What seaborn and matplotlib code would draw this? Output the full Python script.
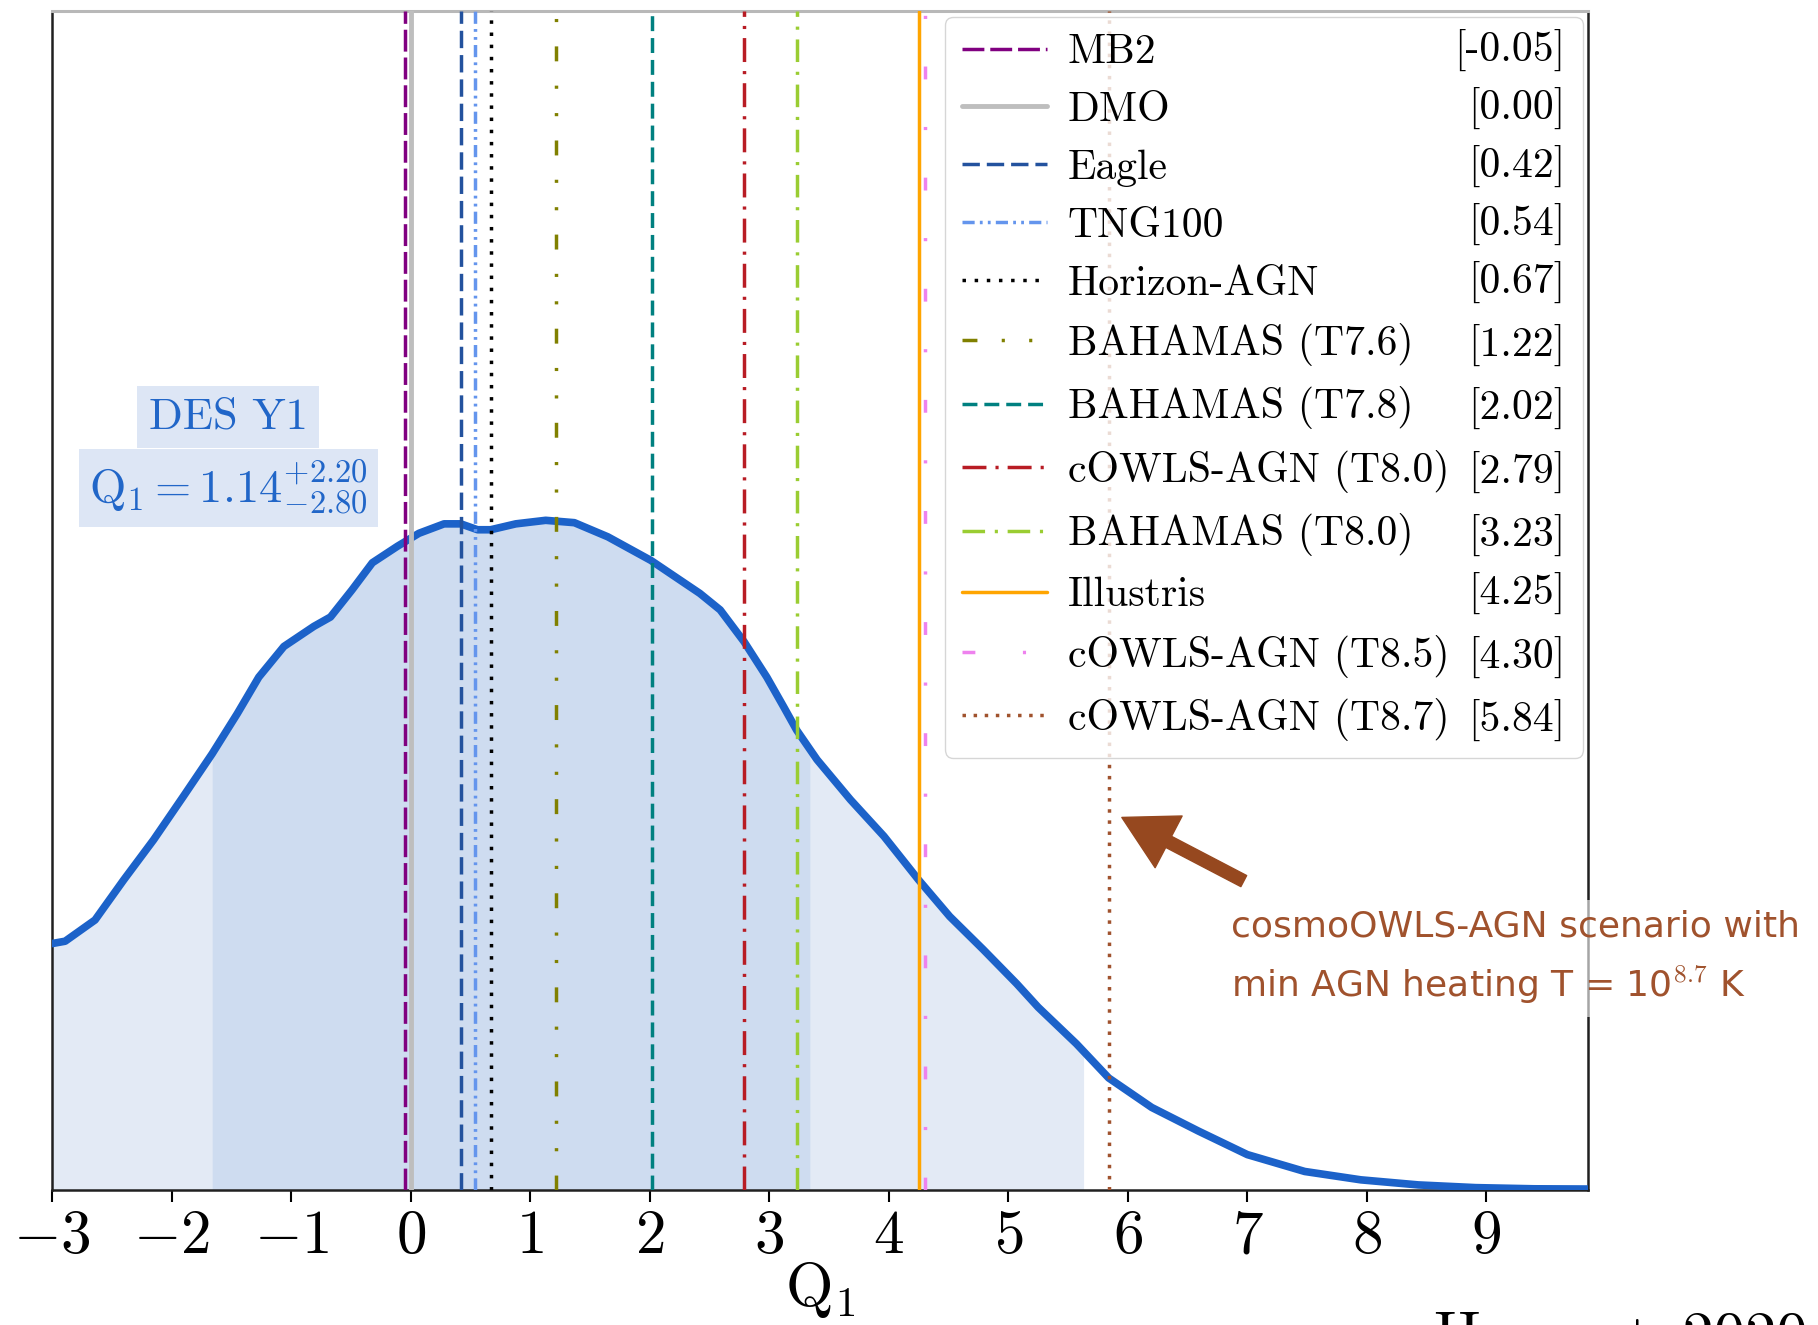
import numpy as np
import matplotlib
matplotlib.use("Agg")
import matplotlib.pyplot as plt
import seaborn as sns

# Posterior of Q1 (normalised so that 1.0 is the top of the frame)
q1_grid = [-3.00, -2.89, -2.64, -2.40, -2.15, -1.90, -1.66, -1.45, -1.27, -1.06,
           -0.81, -0.67, -0.49, -0.32, -0.11, 0.07, 0.28, 0.42, 0.56, 0.67,
           0.88, 1.13, 1.37, 1.65, 2.01, 2.42, 2.59, 2.79, 2.98, 3.12,
           3.23, 3.40, 3.68, 3.96, 4.25, 4.51, 4.79, 5.07, 5.25, 5.57,
           5.84, 6.20, 6.59, 7.00, 7.48, 7.95, 8.43, 8.91, 9.40, 9.85]
q1_density = [0.209, 0.211, 0.229, 0.263, 0.297, 0.334, 0.370, 0.404, 0.435, 0.461,
              0.478, 0.486, 0.509, 0.532, 0.546, 0.557, 0.565, 0.565, 0.560, 0.560,
              0.565, 0.568, 0.566, 0.554, 0.534, 0.506, 0.492, 0.465, 0.435, 0.410,
              0.390, 0.365, 0.331, 0.300, 0.263, 0.232, 0.204, 0.175, 0.155, 0.124,
              0.095, 0.070, 0.050, 0.030, 0.0157, 0.0086, 0.0043, 0.002, 0.001, 0.0008]

q1_median = 1.14
q1_err_hi = 2.20
q1_err_lo = 2.80
q1_outer = [-3.0, 5.63]

sim_names = ["MB2", "DMO", "Eagle", "TNG100", "Horizon-AGN", "BAHAMAS (T7.6)",
             "BAHAMAS (T7.8)", "cOWLS-AGN (T8.0)", "BAHAMAS (T8.0)", "Illustris",
             "cOWLS-AGN (T8.5)", "cOWLS-AGN (T8.7)"]
sim_q1 = [-0.05, 0.00, 0.42, 0.54, 0.67, 1.22, 2.02, 2.79, 3.23, 4.25, 4.30, 5.84]
sim_colors = ["#800080", "#bebebe", "#23529e", "#6495ed", "#000000", "#808000",
              "#008080", "#b81c24", "#9acd32", "#ffa500", "#ee82ee", "#a0522d"]
sim_styles = [(0, (6.3, 1.7)), "-", (0, (5, 2)), (0, (3.5, 1.5, 0.8, 1.5, 0.8, 1.5)),
              (0, (1, 2.5)), (0, (4.3, 7, 0.9, 7, 0.9, 7)), (0, (4.3, 2)),
              (0, (6.9, 2.6, 0.9, 2.6)), (0, (6.5, 2.8, 0.9, 2.8)), "-",
              (0, (3.7, 13.7, 0.9, 13.7)), (0, (1, 2.2))]
sim_widths = [2.5, 3.5, 2.5, 2.5, 2.5, 2.5, 2.5, 2.5, 2.5, 2.5, 2.5, 2.5]

x_ticks = list(range(-3, 10))

curve_color = "#1c62c9"
text_blue = "#2166c8"
band_dark = "#cedcf0"
band_light = "#e3eaf5"
note_brown = "#a0522d"

sns.set_theme(style="white")
plt.rcParams.update({
    "font.family": "serif",
    "font.serif": ["cmr10"],
    "mathtext.fontset": "cm",
    "axes.formatter.use_mathtext": True,
    "axes.unicode_minus": True,
    "text.color": "black",
    "axes.labelcolor": "black",
    "xtick.color": "black",
})

fig = plt.figure(figsize=(18.18, 13.25), dpi=100)
ax = fig.add_axes([0.0286, 0.1019, 0.8449, 0.8898])

g = np.array(q1_grid)
d = np.array(q1_density)


def band(lo, hi):
    inside = (g > lo) & (g < hi)
    xs = np.concatenate([[lo], g[inside], [hi]])
    return xs, np.interp(xs, g, d)


xs, ys = band(*q1_outer)
ax.fill_between(xs, 0, ys, color=band_light, lw=0, zorder=1)
xs, ys = band(q1_median - q1_err_lo, q1_median + q1_err_hi)
ax.fill_between(xs, 0, ys, color=band_dark, lw=0, zorder=1.5)

sns.lineplot(x=q1_grid, y=q1_density, ax=ax, color=curve_color, lw=5.5,
             sort=False, estimator=None, zorder=4)

for name, v, c, ls, lw in zip(sim_names, sim_q1, sim_colors, sim_styles, sim_widths):
    ax.axvline(v, color=c, linestyle=ls, lw=lw, label=name, zorder=5)

ax.set_xlim(-3, 9.85)
ax.set_ylim(0, 1.0)
ax.set_yticks([])
ax.set_xticks(x_ticks)
ax.tick_params(axis="x", direction="out", length=8.5, width=1.5, labelsize=44,
               pad=6, bottom=True, colors="black")
ax.set_xlabel(r"$\mathrm{Q}_1$", fontsize=44, labelpad=-4)

for side in ["left", "right", "bottom"]:
    ax.spines[side].set_color("#202020")
    ax.spines[side].set_linewidth(1.8)
ax.spines["top"].set_color("#b8b8b8")
ax.spines["top"].set_linewidth(2.2)

# DES Y1 constraint boxes
ax.text(0.1146, 0.6556, "DES Y1", transform=ax.transAxes, ha="center", va="center",
        fontsize=32, color=text_blue,
        bbox=dict(boxstyle="square,pad=0.25", fc="#dde6f5", ec="none"), zorder=6)
ax.text(0.1146, 0.5954,
        r"$\mathrm{Q}_1 = %.2f^{+%.2f}_{-%.2f}$" % (q1_median, q1_err_hi, q1_err_lo),
        transform=ax.transAxes, ha="center", va="center", fontsize=33.5, color=text_blue,
        bbox=dict(boxstyle="square,pad=0.22", fc="#dde6f5", ec="none"), zorder=6)

leg = ax.legend(loc="upper right", bbox_to_anchor=(0.5814, 0.3656, 0.4153, 0.6293),
                mode="expand", borderaxespad=0, fontsize=30, handlelength=2.05,
                handletextpad=0.5, labelspacing=0.49, borderpad=0.4, frameon=True,
                fancybox=True, framealpha=0.8, edgecolor="0.8")

# right-aligned values inside the legend
fig.canvas.draw()
W, H = fig.canvas.get_width_height()
frame_bb = leg.get_frame().get_window_extent()
for t, v in zip(leg.get_texts(), sim_q1):
    bb = t.get_window_extent()
    fig.text((frame_bb.x1 - 18) / W, bb.y0 / H, "[%.2f]" % v, ha="right", va="bottom",
             fontsize=30, color="black")

# note on the hottest AGN-feedback scenario
ax.annotate("", xy=(5.95, 0.316), xytext=(6.97, 0.262),
            arrowprops=dict(arrowstyle="simple,head_length=1.9,head_width=2.1,tail_width=0.45",
                            color="#96481f", mutation_scale=20, shrinkA=0, shrinkB=0),
            annotation_clip=False, zorder=7)
fig.text(0.6771, 0.2475,
         "cosmoOWLS-AGN scenario with\nmin AGN heating T = 10$^{\\mathsf{8.7}}$ K",
         family="DejaVu Sans", fontsize=26, color=note_brown, ha="left", va="baseline",
         linespacing=1.62,
         bbox=dict(boxstyle="square,pad=0.3", fc="white", ec="none", alpha=0.6))

fig.text(0.789, -0.0226, "Huang+ 2020", fontsize=45, ha="left", va="baseline")

fig.savefig("out.png", dpi=100)
